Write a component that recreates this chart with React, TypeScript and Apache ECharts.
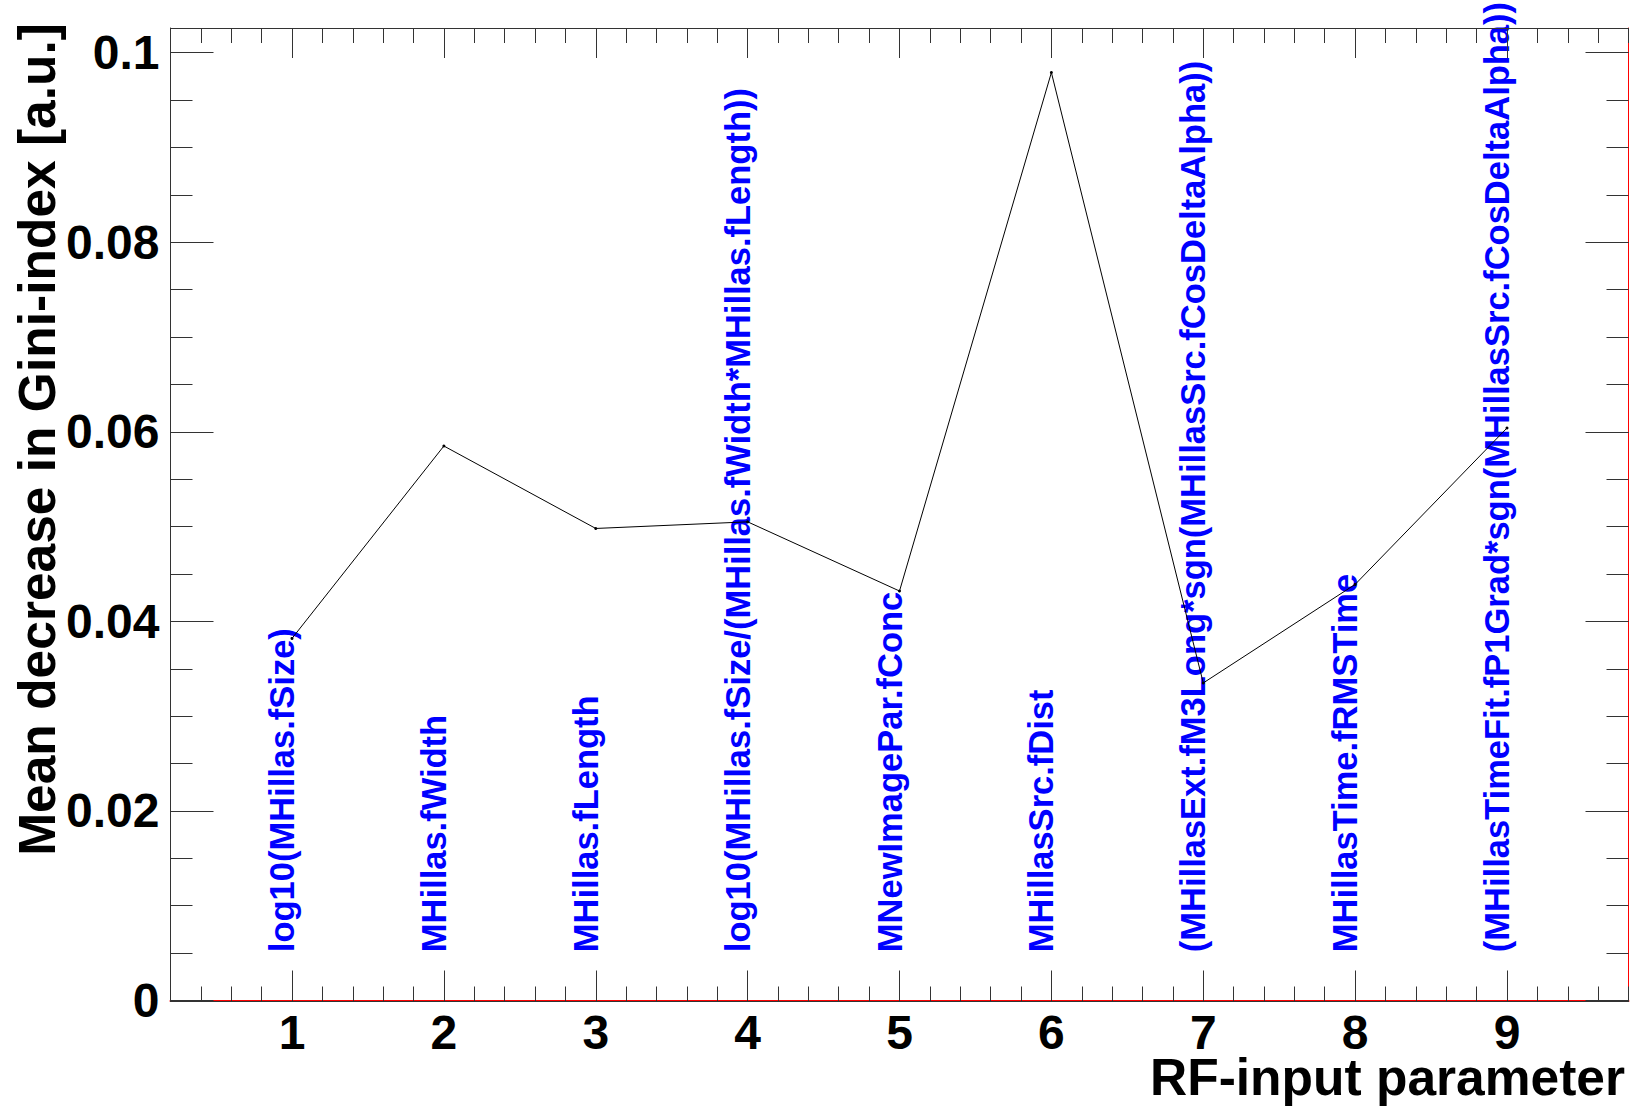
import React, { useEffect, useRef } from "react";
import * as echarts from "echarts";

// ---- data ----
const X_VALUES = [1, 2, 3, 4, 5, 6, 7, 8, 9];
const GINI = [0.0382, 0.0585, 0.0498, 0.0505, 0.0432, 0.0979, 0.0335, 0.0439, 0.0604];
const PARAM_NAMES = [
  "log10(MHillas.fSize)",
  "MHillas.fWidth",
  "MHillas.fLength",
  "log10(MHillas.fSize/(MHillas.fWidth*MHillas.fLength))",
  "MNewImagePar.fConc",
  "MHillasSrc.fDist",
  "(MHillasExt.fM3Long*sgn(MHillasSrc.fCosDeltaAlpha))",
  "MHillasTime.fRMSTime",
  "(MHillasTimeFit.fP1Grad*sgn(MHillasSrc.fCosDeltaAlpha))",
];
const X_TICKS = [1, 2, 3, 4, 5, 6, 7, 8, 9];
const X_TICK_LABELS = ["1", "2", "3", "4", "5", "6", "7", "8", "9"];
const Y_TICKS = [0, 0.02, 0.04, 0.06, 0.08, 0.1];
const Y_TICK_LABELS = ["0", "0.02", "0.04", "0.06", "0.08", "0.1"];

const X_TITLE = "RF-input parameter";
const Y_TITLE = "Mean decrease in Gini-index [a.u.]";

// ---- layout / style constants ----
const X_MIN = 0.2;
const X_MAX = 9.8;
const X_MINOR = 0.2;
const Y_MIN = 0;
const Y_MAX = 0.1026;
const Y_MINOR = 0.005;
const LABEL_Y = 0.0051;
const FONT = '"Liberation Sans", Arial, Helvetica, sans-serif';
const AX = "#333333";
const FRAME_RED = "#ff0000";

export default function App() {
  const ref = useRef<HTMLDivElement>(null);

  useEffect(() => {
    if (!ref.current) return;
    const chart = echarts.init(ref.current, null, { renderer: "svg" });

    const tickStyle = { color: AX, width: 1 };
    const redLine = { color: FRAME_RED, width: 1 };
    const labelStyle = {
      fontFamily: FONT,
      fontWeight: "bold" as const,
      fontSize: 48,
      color: "#000",
    };

    const xBase = { type: "value" as const, min: X_MIN, max: X_MAX, splitLine: { show: false } };
    const yBase = { type: "value" as const, min: Y_MIN, max: Y_MAX, splitLine: { show: false } };

    const option: any = {
      animation: false,
      backgroundColor: "#ffffff",
      grid: {
        left: 170.5,
        right: 5.5,
        top: 28,
        bottom: 105.5,
        show: false,
        containLabel: false,
      },
      xAxis: [
        {
          ...xBase,
          z: 4,
          position: "bottom",
          offset: 1,
          interval: X_MINOR,
          axisLine: { show: true, onZero: false, lineStyle: tickStyle },
          axisTick: { show: true, inside: true, length: 15, lineStyle: tickStyle },
          axisLabel: { show: false },
        },
        {
          ...xBase,
          z: 3,
          position: "bottom",
          axisLine: { show: true, onZero: false, lineStyle: { color: FRAME_RED, width: 2 } },
          axisTick: { show: true, inside: true, length: 30, customValues: X_TICKS, lineStyle: tickStyle },
          axisLabel: {
            show: true,
            customValues: X_TICKS,
            margin: 13,
            lineHeight: 38,
            ...labelStyle,
            formatter: (v: number) => {
              const i = X_TICKS.findIndex((t) => Math.abs(t - v) < 1e-9);
              return i >= 0 ? X_TICK_LABELS[i] : "";
            },
          },
        },
        {
          ...xBase,
          z: 3,
          position: "top",
          interval: X_MINOR,
          axisLine: { show: true, onZero: false, lineStyle: tickStyle },
          axisTick: { show: true, inside: true, length: 15, lineStyle: tickStyle },
          axisLabel: { show: false },
        },
        {
          ...xBase,
          z: 3,
          position: "top",
          axisLine: { show: false, onZero: false },
          axisTick: { show: true, inside: true, length: 30, customValues: X_TICKS, lineStyle: tickStyle },
          axisLabel: { show: false },
        },
      ],
      yAxis: [
        {
          ...yBase,
          z: 3,
          position: "left",
          interval: Y_MINOR,
          axisLine: { show: true, onZero: false, lineStyle: tickStyle },
          axisTick: { show: true, inside: true, length: 22, lineStyle: tickStyle },
          axisLabel: { show: false },
        },
        {
          ...yBase,
          z: 3,
          position: "left",
          axisLine: { show: false, onZero: false },
          axisTick: { show: true, inside: true, length: 43, customValues: Y_TICKS, lineStyle: tickStyle },
          axisLabel: {
            show: true,
            customValues: Y_TICKS,
            margin: 11,
            padding: [10, 0, 0, 0],
            ...labelStyle,
            formatter: (v: number) => {
              const i = Y_TICKS.findIndex((t) => Math.abs(t - v) < 1e-9);
              return i >= 0 ? Y_TICK_LABELS[i] : "";
            },
          },
        },
        {
          ...yBase,
          z: 3,
          position: "right",
          interval: Y_MINOR,
          axisLine: { show: true, onZero: false, lineStyle: redLine },
          axisTick: { show: true, inside: true, length: 22, lineStyle: tickStyle },
          axisLabel: { show: false },
        },
        {
          ...yBase,
          z: 3,
          position: "right",
          axisLine: { show: false, onZero: false },
          axisTick: { show: true, inside: true, length: 43, customValues: Y_TICKS, lineStyle: tickStyle },
          axisLabel: { show: false },
        },
      ],
      graphic: [
        {
          type: "text",
          x: 1625,
          y: 1077,
          z: 100,
          style: {
            text: X_TITLE,
            fill: "#000",
            font: `bold 51.5px ${FONT}`,
            lineHeight: 40,
            align: "right",
            verticalAlign: "middle",
          },
        },
        {
          type: "text",
          x: 37,
          y: 23,
          rotation: Math.PI / 2,
          z: 100,
          style: {
            text: Y_TITLE,
            fill: "#000",
            font: `bold 51.5px ${FONT}`,
            align: "right",
            verticalAlign: "middle",
          },
        },
      ],
      series: [
        {
          type: "custom",
          xAxisIndex: 0,
          yAxisIndex: 0,
          z: 1,
          clip: false,
          data: X_VALUES.map((x) => [x, LABEL_Y]),
          renderItem: (params: any, api: any) => {
            const pt = api.coord([api.value(0), api.value(1)]);
            return {
              type: "text",
              x: pt[0] - 10,
              y: pt[1],
              rotation: Math.PI / 2,
              style: {
                text: PARAM_NAMES[params.dataIndex],
                fill: "#0000ff",
                font: `bold 34.5px ${FONT}`,
                align: "left",
                verticalAlign: "middle",
              },
            };
          },
        },
        {
          type: "line",
          xAxisIndex: 0,
          yAxisIndex: 0,
          z: 5,
          data: X_VALUES.map((x, i) => [x, GINI[i]]),
          symbol: "circle",
          symbolSize: 3,
          showSymbol: true,
          itemStyle: { color: "#000" },
          lineStyle: { color: "#000", width: 1 },
        },
      ],
    };

    chart.setOption(option);
    return () => chart.dispose();
  }, []);

  return (
    <div
      ref={ref}
      style={{ position: "fixed", left: 0, top: 0, width: 1634, height: 1106, background: "#fff" }}
    />
  );
}
